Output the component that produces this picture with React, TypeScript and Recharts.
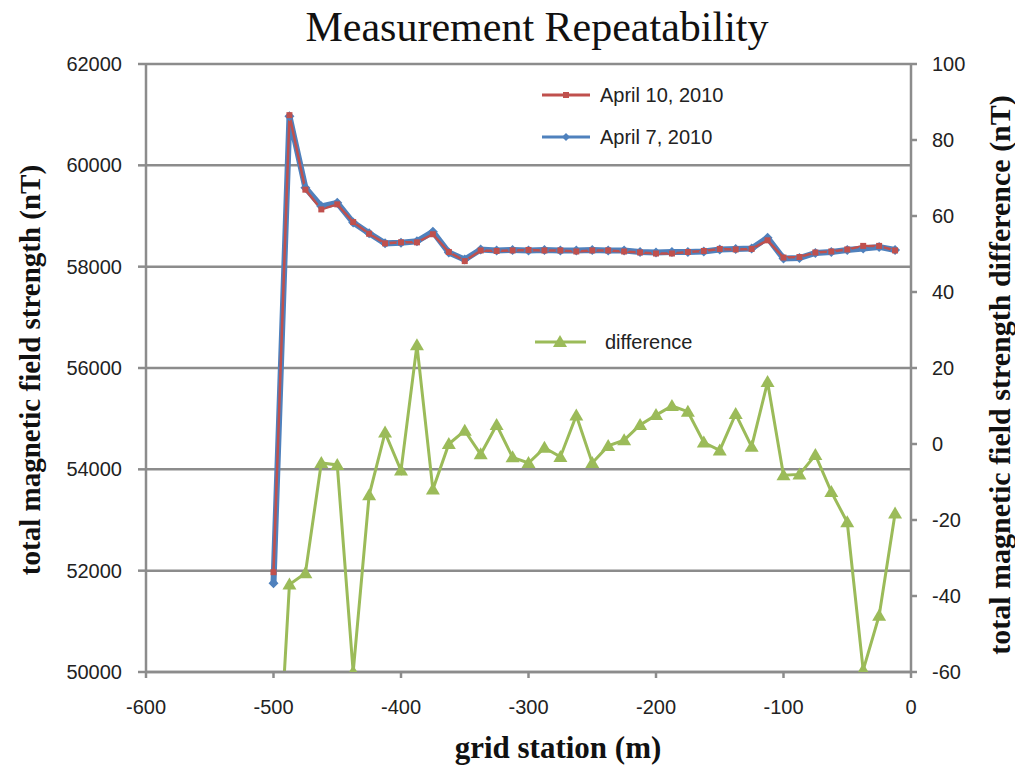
import { ComposedChart, Line, XAxis, YAxis, CartesianGrid } from "recharts";

const stations = [
  -500, -487.5, -475, -462.5, -450, -437.5, -425, -412.5, -400, -387.5,
  -375, -362.5, -350, -337.5, -325, -312.5, -300, -287.5, -275, -262.5,
  -250, -237.5, -225, -212.5, -200, -187.5, -175, -162.5, -150, -137.5,
  -125, -112.5, -100, -87.5, -75, -62.5, -50, -37.5, -25, -12.5,
];

const april10 = [
  51970, 60990, 59520, 59130, 59230, 58880, 58650, 58460, 58480, 58480,
  58640, 58290, 58110, 58320, 58310, 58320, 58330, 58320, 58320, 58300,
  58320, 58320, 58300, 58280, 58260, 58260, 58290, 58310, 58350, 58340,
  58350, 58520, 58180, 58190, 58280, 58300, 58340, 58410, 58410, 58320,
];

const april7 = [
  51750, 60970, 59560, 59190, 59260, 58870, 58660, 58460, 58470, 58500,
  58690, 58280, 58140, 58340, 58320, 58330, 58320, 58330, 58320, 58320,
  58330, 58320, 58320, 58290, 58280, 58290, 58290, 58300, 58340, 58350,
  58360, 58570, 58160, 58170, 58270, 58290, 58330, 58360, 58390, 58330,
];

const difference = [
  -110, -37, -34, -5, -5.5, -60, -13.5, 3, -7, 26,
  -12, 0, 3.5, -2.7, 5, -3.5, -5, -1, -3.4, 7.5,
  -5, -0.5, 1, 5, 7.6, 10, 8.5, 0.4, -1.7, 7.9,
  -0.7, 16.3, -8.2, -8, -2.9, -12.6, -20.6, -59.5, -45.2, -18.3,
];

const xTicks = [-600, -500, -400, -300, -200, -100, 0];
const leftTicks = [50000, 52000, 54000, 56000, 58000, 60000, 62000];
const rightTicks = [-60, -40, -20, 0, 20, 40, 60, 80, 100];

const RED = "#c0504d";
const BLUE = "#4f81bd";
const GREEN = "#9bbb59";
const AXIS = "#8c8c8c";

const rows = stations.map((x, i) => ({
  x,
  april10: april10[i],
  april7: april7[i],
  difference: difference[i],
}));

const sans = "'Liberation Sans', Arial, sans-serif";
const serif = "'Liberation Serif', 'Times New Roman', serif";
const tickStyle = { fontSize: 20, fill: "#222", fontFamily: sans };

const triangle = (props: any) => {
  const { cx, cy, index } = props;
  if (cx == null || cy == null) return <g key={`t${index}`} />;
  return (
    <path
      key={`t${index}`}
      d={`M${cx},${cy - 7} L${cx + 7},${cy + 5} L${cx - 7},${cy + 5} Z`}
      fill={GREEN}
    />
  );
};

const square = (props: any) => {
  const { cx, cy, index } = props;
  if (cx == null || cy == null) return <g key={`s${index}`} />;
  return <rect key={`s${index}`} x={cx - 3} y={cy - 3} width={6} height={6} fill={RED} />;
};

const diamond = (props: any) => {
  const { cx, cy, index } = props;
  if (cx == null || cy == null) return <g key={`d${index}`} />;
  return (
    <path
      key={`d${index}`}
      d={`M${cx},${cy - 5} L${cx + 5},${cy} L${cx},${cy + 5} L${cx - 5},${cy} Z`}
      fill={BLUE}
    />
  );
};

export default function App() {
  return (
    <div style={{ position: "absolute", left: 0, top: 0, width: 1015, height: 771, background: "#fff" }}>
      <ComposedChart
        width={1015}
        height={771}
        data={rows}
        margin={{ top: 64, right: 0, bottom: 0, left: 0 }}
      >
        <CartesianGrid yAxisId="left" horizontal vertical={false} stroke={AXIS} strokeWidth={2.5} />
        <XAxis
          dataKey="x"
          type="number"
          domain={[-600, 0]}
          ticks={xTicks}
          interval={0}
          height={99}
          stroke={AXIS}
          strokeWidth={2.5}
          tickSize={6}
          tickMargin={22}
          tick={tickStyle}
        />
        <YAxis
          yAxisId="left"
          domain={[50000, 62000]}
          ticks={leftTicks}
          interval={0}
          width={146}
          stroke={AXIS}
          strokeWidth={2.5}
          tickSize={8}
          tickMargin={16}
          tick={tickStyle}
        />
        <YAxis
          yAxisId="right"
          orientation="right"
          domain={[-60, 100]}
          ticks={rightTicks}
          interval={0}
          allowDataOverflow
          width={104}
          stroke={AXIS}
          strokeWidth={2.5}
          tickSize={6}
          tickMargin={15}
          tick={{ ...tickStyle, textAnchor: "start" }}
        />
        <Line
          yAxisId="right"
          dataKey="difference"
          stroke={GREEN}
          strokeWidth={3}
          dot={triangle}
          isAnimationActive={false}
        />
        <Line
          yAxisId="left"
          dataKey="april7"
          stroke={BLUE}
          strokeWidth={6}
          dot={diamond}
          isAnimationActive={false}
        />
        <Line
          yAxisId="left"
          dataKey="april10"
          stroke={RED}
          strokeWidth={2.5}
          dot={square}
          isAnimationActive={false}
        />
      </ComposedChart>

      <svg width={1015} height={771} style={{ position: "absolute", left: 0, top: 0, pointerEvents: "none" }}>
        <line x1={542} y1={95} x2={590} y2={95} stroke={RED} strokeWidth={3} />
        <rect x={563} y={92} width={6} height={6} fill={RED} />
        <text x={600} y={95} dominantBaseline="central" fontSize={20} fontFamily={sans} fill="#222">
          April 10, 2010
        </text>
        <line x1={542} y1={137} x2={590} y2={137} stroke={BLUE} strokeWidth={3} />
        <path d="M566,133 L570,137 L566,141 L562,137 Z" fill={BLUE} />
        <text x={600} y={137} dominantBaseline="central" fontSize={20} fontFamily={sans} fill="#222">
          April 7, 2010
        </text>
        <line x1={535} y1={342} x2={586} y2={342} stroke={GREEN} strokeWidth={3} />
        <path d="M560,335 L567,347 L553,347 Z" fill={GREEN} />
        <text x={605} y={342} dominantBaseline="central" fontSize={20} fontFamily={sans} fill="#222">
          difference
        </text>
      </svg>

      <div
        style={{
          position: "absolute",
          left: 537,
          top: 27,
          transform: "translate(-50%, -50%)",
          fontFamily: serif,
          fontSize: 42,
          color: "#111",
          whiteSpace: "nowrap",
        }}
      >
        Measurement Repeatability
      </div>
      <div
        style={{
          position: "absolute",
          left: 558,
          top: 748,
          transform: "translate(-50%, -50%)",
          fontFamily: serif,
          fontWeight: "bold",
          fontSize: 31,
          color: "#111",
          whiteSpace: "nowrap",
        }}
      >
        grid station (m)
      </div>
      <div
        style={{
          position: "absolute",
          left: 30,
          top: 370,
          transform: "translate(-50%, -50%) rotate(-90deg)",
          fontFamily: serif,
          fontWeight: "bold",
          fontSize: 29,
          color: "#111",
          whiteSpace: "nowrap",
        }}
      >
        total magnetic field strength (nT)
      </div>
      <div
        style={{
          position: "absolute",
          left: 1000,
          top: 375,
          transform: "translate(-50%, -50%) rotate(-90deg)",
          fontFamily: serif,
          fontWeight: "bold",
          fontSize: 30,
          color: "#111",
          whiteSpace: "nowrap",
        }}
      >
        total magnetic field strength difference (nT)
      </div>
    </div>
  );
}
